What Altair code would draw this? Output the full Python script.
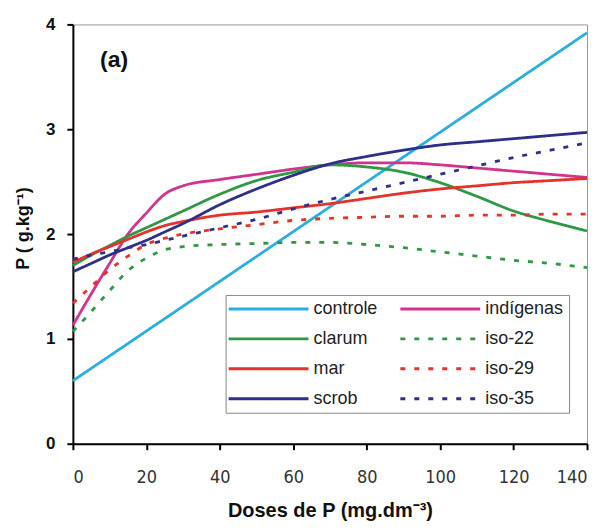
import altair as alt
import pandas as pd

# ---- data ----
# legend is filled column by column: first column then second column
series_order = ["controle", "clarum", "mar", "scrob", "indígenas", "iso-22", "iso-29", "iso-35"]
series_colors = ["#2AAEDF", "#2E9845", "#E5322B", "#2E2F8A", "#D1338E", "#2E9845", "#E5322B", "#2E2F8A"]
series_dash = [[1, 0], [1, 0], [1, 0], [1, 0], [1, 0], [5, 9], [5, 9], [5, 9]]

doses = [0, 5, 10, 15, 20, 25, 30, 40, 50, 60, 70, 80, 90, 100, 110, 120, 130, 140]

controle_x = [0, 140]
controle = [0.60, 3.92]

indigenas = [1.13, 1.43, 1.72, 2.00, 2.20, 2.38, 2.46, 2.52, 2.57, 2.62, 2.66, 2.68, 2.68, 2.66, 2.63, 2.60, 2.57, 2.54]
clarum = [1.70, 1.80, 1.89, 1.98, 2.06, 2.14, 2.22, 2.38, 2.51, 2.59, 2.66, 2.64, 2.59, 2.49, 2.36, 2.22, 2.12, 2.03]
mar = [1.73, 1.81, 1.88, 1.95, 2.02, 2.08, 2.12, 2.18, 2.21, 2.25, 2.29, 2.34, 2.39, 2.43, 2.46, 2.49, 2.51, 2.53]
scrob = [1.64, 1.72, 1.80, 1.87, 1.94, 2.02, 2.10, 2.28, 2.43, 2.56, 2.67, 2.74, 2.80, 2.85, 2.88, 2.91, 2.94, 2.97]
iso22 = [1.07, 1.26, 1.46, 1.65, 1.77, 1.85, 1.88, 1.90, 1.91, 1.92, 1.92, 1.90, 1.87, 1.83, 1.79, 1.75, 1.72, 1.68]
iso29 = [1.34, 1.50, 1.66, 1.79, 1.90, 1.96, 2.00, 2.05, 2.09, 2.13, 2.15, 2.16, 2.17, 2.17, 2.18, 2.18, 2.19, 2.19]
iso35 = [1.76, 1.80, 1.83, 1.87, 1.90, 1.94, 1.98, 2.06, 2.14, 2.24, 2.33, 2.41, 2.49, 2.57, 2.65, 2.73, 2.80, 2.87]

x_ticks = [0, 20, 40, 60, 80, 100, 120, 140]
y_ticks = [0, 1, 2, 3, 4]

panel_label = ["(a)"]
panel_x = [7.4]
panel_y = [3.59]

# ---- build long table ----
rows = []
for xv, yv in zip(controle_x, controle):
    rows.append({"dose": xv, "P": yv, "serie": "controle"})
for name, vals in [("indígenas", indigenas), ("clarum", clarum), ("mar", mar), ("scrob", scrob),
                   ("iso-22", iso22), ("iso-29", iso29), ("iso-35", iso35)]:
    for xv, yv in zip(doses, vals):
        rows.append({"dose": xv, "P": yv, "serie": name})
df = pd.DataFrame(rows)

legend = alt.Legend(
    title=None, orient="none", legendX=153, legendY=271, columns=2,
    symbolType="M-2.2,0H13.8", symbolSize=100, symbolStrokeWidth=3, symbolFillColor="transparent",
    labelFont="Liberation Sans", labelFontSize=18, labelColor="#222", labelOffset=65,
    columnPadding=16, rowPadding=12, padding=5,
    strokeColor="#888", fillColor="white", labelLimit=200,
)

lines = alt.Chart(df).mark_line(strokeWidth=2.8, interpolate="monotone").encode(
    x=alt.X("dose:Q", scale=alt.Scale(domain=[0, 140], nice=False),
            axis=alt.Axis(values=x_ticks, title="Doses de P (mg.dm⁻³)", grid=False,
                          domainColor="black", domainWidth=2, tickColor="black", tickWidth=2,
                          tickSize=6, labelFont="DejaVu Sans Condensed, Liberation Sans Narrow, Liberation Sans",
                          labelFontSize=18, labelFontWeight=300,
                          labelColor="#333", labelBaseline="alphabetic", labelPadding=33,
                          titleFont="Liberation Sans", titleFontSize=20, titleFontWeight="bold",
                          titleColor="#111", titleBaseline="alphabetic", titleY=73)),
    y=alt.Y("P:Q", scale=alt.Scale(domain=[0, 4], nice=False),
            axis=alt.Axis(values=y_ticks, format="d", title="P ( g.kg⁻¹)", grid=False,
                          domainColor="black", domainWidth=2, tickColor="black", tickWidth=2,
                          tickSize=6, labelFont="Liberation Sans", labelFontSize=17,
                          labelFontWeight="bold", labelColor="#111", labelPadding=12,
                          titleFont="Liberation Sans", titleFontSize=18, titleFontWeight="bold",
                          titleColor="#111", titleBaseline="alphabetic", titleX=-44, titleY=204)),
    color=alt.Color("serie:N", scale=alt.Scale(domain=series_order, range=series_colors), legend=legend),
    strokeDash=alt.StrokeDash("serie:N", scale=alt.Scale(domain=series_order, range=series_dash), legend=legend),
    detail="serie:N",
)

ann_df = pd.DataFrame({"label": panel_label, "x": panel_x, "y": panel_y})
annot = alt.Chart(ann_df).mark_text(font="Liberation Sans", fontSize=23, fontWeight="bold",
                                    align="left", baseline="alphabetic", color="#111").encode(
    x="x:Q", y="y:Q", text="label:N")

chart = alt.layer(lines, annot).properties(
    width=515, height=420,
    autosize=alt.AutoSizeParams(type="none"),
    padding={"left": 65, "top": 16, "right": 10, "bottom": 79},
).configure_view(stroke="#999", strokeWidth=1)

chart.save("out.html", embed_options={"renderer": "svg", "actions": False})
